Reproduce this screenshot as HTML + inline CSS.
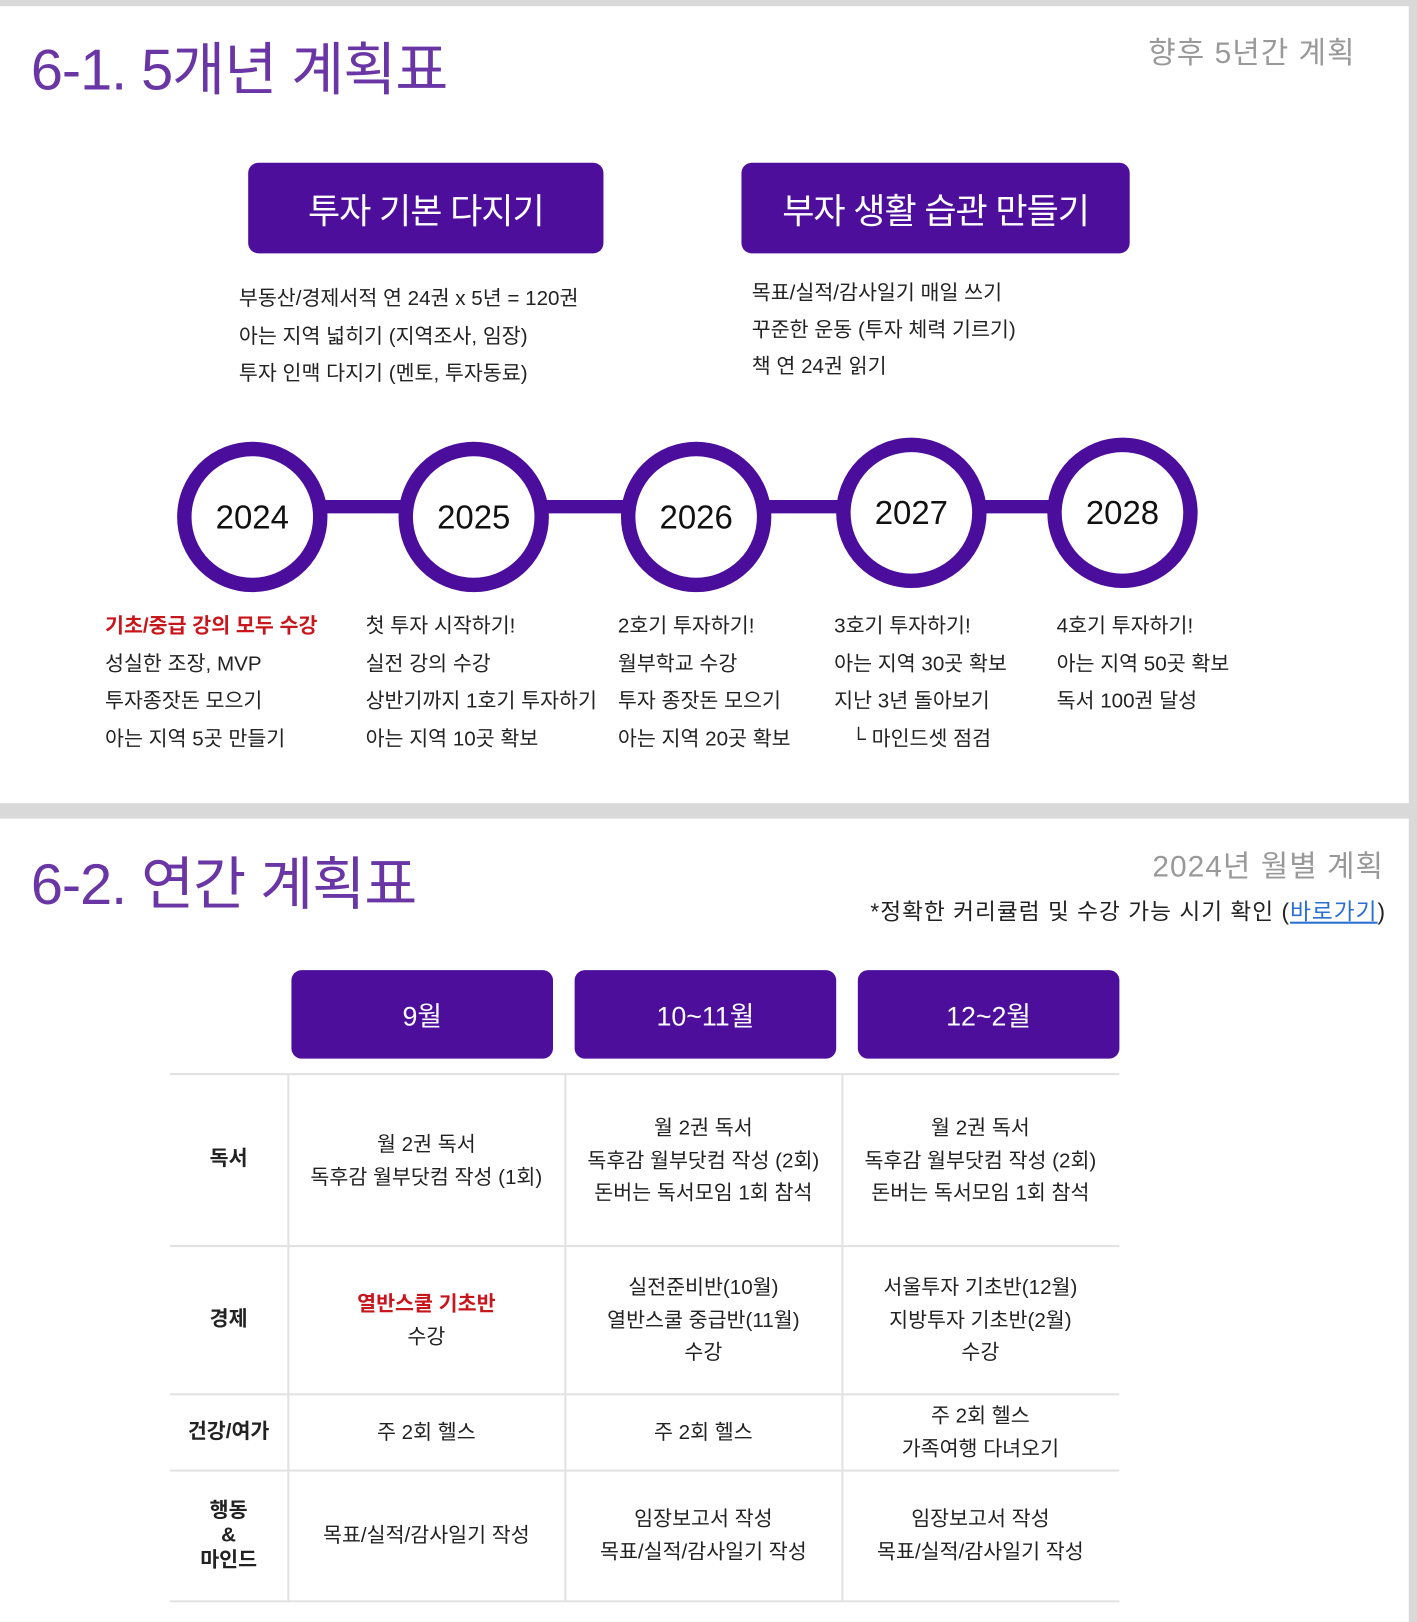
<!DOCTYPE html>
<html><head><meta charset="utf-8"><style>
html,body{margin:0;padding:0;width:1417px;height:1615px;overflow:hidden;background:#d9d9d9}
#w{position:absolute;left:0;top:0;width:1376px;height:1568px;transform:scale(1.0298);transform-origin:0 0;font-family:"Liberation Sans","Noto Sans CJK KR",sans-serif;color:#222}
.card{position:absolute;background:#fff}
.a{position:absolute;white-space:nowrap}
.box{position:absolute;background:#4e0e9c;color:#fff;border-radius:10px;display:flex;align-items:center;justify-content:center}
.t{font-size:20px;line-height:36.5px}
.hl{position:absolute;height:2px;background:#e2e2e2}
.vl{position:absolute;width:2px;background:#e2e2e2}
.c{position:absolute;text-align:center;font-size:20px;line-height:31.5px;transform:translate(-50%,-50%)}
</style></head><body><div id="w">
<div class="card" style="left:0;top:6px;width:1368px;height:774px"></div>
<div class="card" style="left:0;top:795px;width:1368px;height:780px"></div>
<div class="a" style="left:30px;top:23px;font-size:56px;color:#6a35a4;letter-spacing:-1px">6-1. 5개년 계획표</div>
<div class="a" style="left:1115px;top:28px;font-size:29px;color:#999;letter-spacing:1px">향후 5년간 계획</div>
<div class="box" style="left:241px;top:158px;width:345px;height:88px;font-size:34px;letter-spacing:-1px">투자 기본 다지기</div>
<div class="box" style="left:720px;top:158px;width:377px;height:88px;font-size:34px;letter-spacing:-1px">부자 생활 습관 만들기</div>
<div class="a t" style="left:232px;top:272px">부동산/경제서적 연 24권 x 5년 = 120권<br>아는 지역 넓히기 (지역조사, 임장)<br>투자 인맥 다지기 (멘토, 투자동료)</div>
<div class="a t" style="left:730px;top:268px;line-height:35.5px">목표/실적/감사일기 매일 쓰기<br>꾸준한 운동 (투자 체력 기르기)<br>책 연 24권 읽기</div>
<svg class="a" style="left:0;top:0" width="1376" height="780">
<g stroke="#4b0e9c" fill="#fff">
<line x1="245" y1="492" x2="1090" y2="492" stroke-width="13"/>
<circle cx="245" cy="502" r="66" stroke-width="14"/>
<circle cx="460" cy="502" r="66" stroke-width="14"/>
<circle cx="676" cy="502" r="66" stroke-width="14"/>
<circle cx="885" cy="498" r="66" stroke-width="14"/>
<circle cx="1090" cy="498" r="66" stroke-width="14"/>
</g>
<g font-size="32" text-anchor="middle" fill="#111" font-family="Liberation Sans, sans-serif">
<text x="245" y="513">2024</text><text x="460" y="513">2025</text><text x="676" y="513">2026</text><text x="885" y="509">2027</text><text x="1090" y="509">2028</text>
</g></svg>
<div class="a t" style="left:102px;top:590px"><span style="color:#c8161d;font-weight:bold">기초/중급 강의 모두 수강</span><br>성실한 조장, MVP<br>투자종잣돈 모으기<br>아는 지역 5곳 만들기</div>
<div class="a t" style="left:355px;top:590px">첫 투자 시작하기!<br>실전 강의 수강<br>상반기까지 1호기 투자하기<br>아는 지역 10곳 확보</div>
<div class="a t" style="left:600px;top:590px">2호기 투자하기!<br>월부학교 수강<br>투자 종잣돈 모으기<br>아는 지역 20곳 확보</div>
<div class="a t" style="left:810px;top:590px">3호기 투자하기!<br>아는 지역 30곳 확보<br>지난 3년 돌아보기<br>&nbsp;&nbsp;&nbsp;└ 마인드셋 점검</div>
<div class="a t" style="left:1026px;top:590px">4호기 투자하기!<br>아는 지역 50곳 확보<br>독서 100권 달성</div>

<div class="a" style="left:30px;top:814px;font-size:56px;color:#6a35a4;letter-spacing:-1px">6-2. 연간 계획표</div>
<div class="a" style="right:32px;top:818px;font-size:29px;color:#999;letter-spacing:1px">2024년 월별 계획</div>
<div class="a" style="right:30px;top:868px;font-size:22px;letter-spacing:1px">*정확한 커리큘럼 및 수강 가능 시기 확인 (<span style="color:#2a6fd0;text-decoration:underline">바로가기</span>)</div>
<div class="box" style="left:283px;top:942px;width:254px;height:86px;font-size:26px">9월</div>
<div class="box" style="left:558px;top:942px;width:254px;height:86px;font-size:26px">10~11월</div>
<div class="box" style="left:833px;top:942px;width:254px;height:86px;font-size:26px">12~2월</div>
<div class="hl" style="left:165px;top:1042px;width:922px"></div>
<div class="hl" style="left:165px;top:1209px;width:922px"></div>
<div class="hl" style="left:165px;top:1353px;width:922px"></div>
<div class="hl" style="left:165px;top:1427px;width:922px"></div>
<div class="hl" style="left:165px;top:1554px;width:922px"></div>
<div class="vl" style="left:279px;top:1043px;height:512px"></div>
<div class="vl" style="left:548px;top:1043px;height:512px"></div>
<div class="vl" style="left:817px;top:1043px;height:512px"></div>
<div class="c" style="left:222px;top:1126px;font-weight:bold">독서</div>
<div class="c" style="left:222px;top:1282px;font-weight:bold">경제</div>
<div class="c" style="left:222px;top:1391px;font-weight:bold">건강/여가</div>
<div class="c" style="left:222px;top:1491px;font-weight:bold;line-height:24px">행동<br>&amp;<br>마인드</div>
<div class="c" style="left:414px;top:1128px">월 2권 독서<br>독후감 월부닷컴 작성 (1회)</div>
<div class="c" style="left:683px;top:1128px">월 2권 독서<br>독후감 월부닷컴 작성 (2회)<br>돈버는 독서모임 1회 참석</div>
<div class="c" style="left:952px;top:1128px">월 2권 독서<br>독후감 월부닷컴 작성 (2회)<br>돈버는 독서모임 1회 참석</div>
<div class="c" style="left:414px;top:1283px"><span style="color:#c8161d;font-weight:bold">열반스쿨 기초반</span><br>수강</div>
<div class="c" style="left:683px;top:1283px">실전준비반(10월)<br>열반스쿨 중급반(11월)<br>수강</div>
<div class="c" style="left:952px;top:1283px">서울투자 기초반(12월)<br>지방투자 기초반(2월)<br>수강</div>
<div class="c" style="left:414px;top:1392px">주 2회 헬스</div>
<div class="c" style="left:683px;top:1392px">주 2회 헬스</div>
<div class="c" style="left:952px;top:1392px">주 2회 헬스<br>가족여행 다녀오기</div>
<div class="c" style="left:414px;top:1492px">목표/실적/감사일기 작성</div>
<div class="c" style="left:683px;top:1492px">임장보고서 작성<br>목표/실적/감사일기 작성</div>
<div class="c" style="left:952px;top:1492px">임장보고서 작성<br>목표/실적/감사일기 작성</div>
</div></body></html>
